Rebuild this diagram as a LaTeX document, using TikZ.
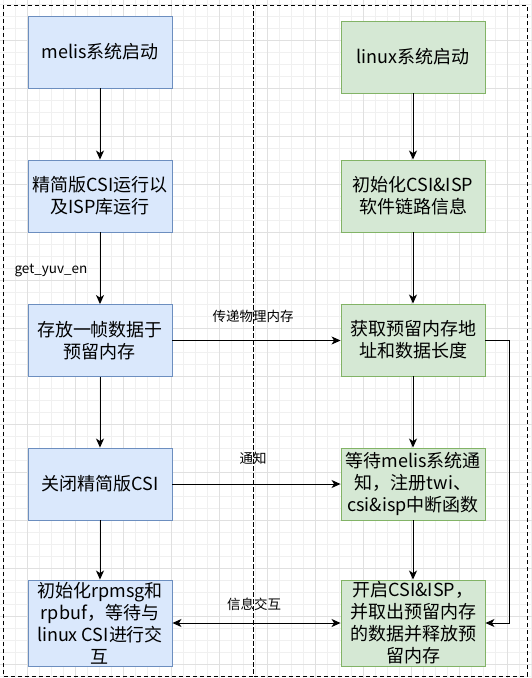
\documentclass[tikz,border=0pt]{standalone}
\usepackage{fontspec}
\setmainfont{Noto Sans CJK SC}
\usetikzlibrary{arrows.meta}
\definecolor{bluefill}{HTML}{DAE8FC}
\definecolor{bluedraw}{HTML}{6C8EBF}
\definecolor{greenfill}{HTML}{D5E8D4}
\definecolor{greendraw}{HTML}{82B366}
\definecolor{gridminor}{HTML}{F0F0F0}
\definecolor{gridmajor}{HTML}{E0E0E0}
\tikzset{
  base/.style={minimum width=144pt, minimum height=72pt, inner sep=0pt, align=center,
    font=\fontsize{18pt}{22pt}\selectfont, line width=0.9pt},
  bluebox/.style={base, fill=bluefill, draw=bluedraw},
  greenbox/.style={base, fill=greenfill, draw=greendraw},
  conn/.style={line width=1pt, -{Stealth[length=9pt,width=8pt,inset=2.5pt]}},
  biconn/.style={line width=1pt, {Stealth[length=9pt,width=8pt,inset=2.5pt]}-{Stealth[length=9pt,width=8pt,inset=2.5pt]}},
  lbl/.style={font=\fontsize{13.5pt}{15pt}\selectfont, inner sep=0pt},
  frame/.style={draw=black, line width=1pt, dash pattern=on 4pt off 3pt}
}
\begin{document}
\begin{tikzpicture}[x=1pt,y=-1pt]
\useasboundingbox (0,0) rectangle (532,678);
\fill[white] (0,0) rectangle (532,678);
% grid
\foreach \i in {-1,...,44} {
  \draw[gridminor, line width=0.6pt] ({3+12*\i},0) -- ({3+12*\i},678);
}
\foreach \j in {-1,...,57} {
  \draw[gridminor, line width=0.6pt] (0,{4+12*\j}) -- (532,{4+12*\j});
}
\foreach \i in {0,...,10} {
  \draw[gridmajor, line width=0.8pt] ({27+48*\i},0) -- ({27+48*\i},678);
}
\foreach \j in {0,...,13} {
  \draw[gridmajor, line width=0.8pt] (0,{40+48*\j}) -- (532,{40+48*\j});
}
% frames
\draw[frame] (3,5) rectangle (253,676);
\draw[frame] (253,5) rectangle (527,676);
% nodes
\node[bluebox] (l1) at (100,52) {melis系统启动};
\node[greenbox] (r1) at (413,57) {linux系统启动};
\node[bluebox] (l2) at (100,196) {精简版CSI运行以\\及ISP库运行};
\node[greenbox] (r2) at (413,196) {初始化CSI\&ISP\\软件链路信息};
\node[bluebox] (l3) at (100,340.5) {存放一帧数据于\\预留内存};
\node[greenbox] (r3) at (413,340) {获取预留内存地\\址和数据长度};
\node[bluebox] (l4) at (100,484) {关闭精简版CSI};
\node[greenbox] (r4) at (413,484) {等待melis系统通\\知，注册twi、\\csi\&isp中断函数};
\node[bluebox, minimum height=86pt] (l5) at (100,623) {初始化rpmsg和\\rpbuf，等待与\\linux CSI进行交\\互};
\node[greenbox, minimum height=86pt] (r5) at (413,623) {开启CSI\&ISP，\\并取出预留内存\\的数据并释放预\\留内存};
% connectors
\draw[conn] (l1) -- (l2);
\draw[conn] (l2) -- (l3);
\draw[conn] (l3) -- (l4);
\draw[conn] (l4) -- (l5);
\draw[conn] (r1) -- (r2);
\draw[conn] (r2) -- (r3);
\draw[conn] (r3) -- (r4);
\draw[conn] (r4) -- (r5);
\draw[conn] (l3.east) -- (r3.west |- l3.east);
\draw[conn] (l4) -- (r4);
\draw[biconn] (l5) -- (r5);
\coordinate (c1) at (509,340);
\coordinate (c2) at (509,623);
\draw[conn] (r3.east) -- (c1) -- (c2) -- (r5.east);
% labels
\node[lbl] (t1) at (51,270) {get\_yuv\_en};
\node[lbl] (t2) at (253,316) {传递物理内存};
\node[lbl] (t3) at (253,458) {通知};
\node[lbl] (t4) at (254,604) {信息交互};
\end{tikzpicture}
\end{document}
